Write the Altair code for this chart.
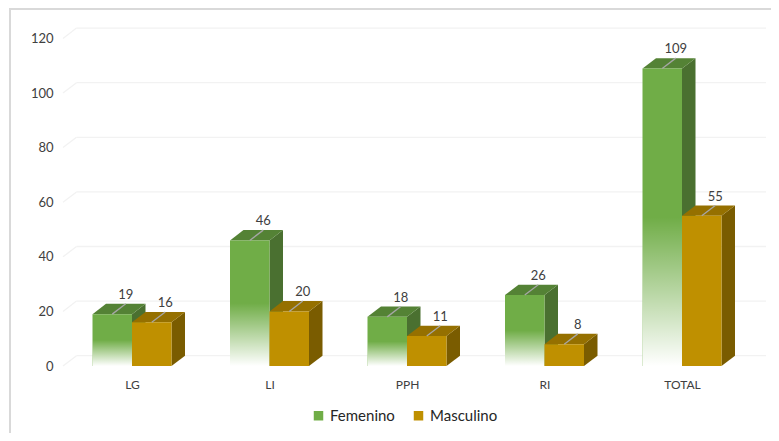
import altair as alt
import pandas as pd

categories = ["LG", "LI", "PPH", "RI", "TOTAL"]
femenino = [19, 46, 18, 26, 109]
masculino = [16, 20, 11, 8, 55]
y_ticks = [0, 20, 40, 60, 80, 100, 120]
series_names = ["Femenino", "Masculino"]

GREEN, GREEN_TOP, GREEN_SIDE = "#70AD47", "#548235", "#4A7030"
GOLD, GOLD_TOP, GOLD_SIDE = "#BF9000", "#957000", "#7A5C00"
FONT = "Lato"

PX_X = 137.5
PX_Y = 2.73
BAR = 39.5 / PX_X
DX = 13.5 / PX_X
DY = 10.3 / PX_Y
X_DOMAIN = [-69 / PX_X, 634 / PX_X]
Y_DOMAIN = [0, 338 / PX_Y]

bars, sides, tops = [], [], []
for i, c in enumerate(categories):
    for name, vals, x0 in (("Femenino", femenino, i - BAR), ("Masculino", masculino, i)):
        v = vals[i]
        x1 = x0 + BAR
        key = f"{c}-{name}"
        bars.append(dict(key=key, cat=c, serie=name, x0=x0, x1=x1, v=v, base=0,
                         lx=(x0 + x1) / 2, lx2=(x0 + x1) / 2 + DX, ly=v + DY))
        sides += [dict(key=key, serie=name, x=x1, y=v, y2=0),
                  dict(key=key, serie=name, x=x1 + DX, y=v + DY, y2=DY)]
        tops += [dict(key=key, serie=name, x=x0, y=v, y2=v),
                 dict(key=key, serie=name, x=x0 + DX, y=v + DY, y2=v),
                 dict(key=key, serie=name, x=x1, y=v + DY, y2=v),
                 dict(key=key, serie=name, x=x1 + DX, y=v + DY, y2=v + DY)]

bars = pd.DataFrame(bars)
sides = pd.DataFrame(sides)
tops = pd.DataFrame(tops)
grid = pd.DataFrame([dict(v=t, back=t + DY, x0=X_DOMAIN[0], x1=X_DOMAIN[0] + DX, x2=X_DOMAIN[1]) for t in y_ticks])

labels_expr = "[" + ",".join(f"'{c}'" for c in categories) + "][datum.value]"
x_scale = alt.Scale(domain=X_DOMAIN, nice=False, zero=False)
y_scale = alt.Scale(domain=Y_DOMAIN, nice=False, zero=False)
x_axis = alt.Axis(values=list(range(len(categories))), labelExpr=labels_expr, title=None, grid=False,
                  domain=False, ticks=False, labelPadding=13, labelFontSize=12, labelFont=FONT,
                  labelColor="#404040", labelFlush=False)
y_axis = alt.Axis(values=y_ticks, title=None, grid=False, domain=False, ticks=False, labelPadding=10,
                  labelFontSize=13, labelFont=FONT, labelColor="#404040")

frame_left = alt.Chart(grid).mark_rule(color="#D9D9D9", strokeWidth=1.5).encode(
    x=alt.value(-53), y=alt.value(-20), y2=alt.value(405))
frame_top = alt.Chart(grid).mark_rule(color="#D9D9D9", strokeWidth=1.5).encode(
    x=alt.value(-53), x2=alt.value(708), y=alt.value(-19))

grid_back = alt.Chart(grid).mark_rule(color="#F2F2F2", strokeWidth=1.3).encode(
    x=alt.X("x1:Q", scale=x_scale, axis=x_axis), x2="x2:Q", y=alt.Y("back:Q", scale=y_scale, axis=y_axis))
grid_diag = alt.Chart(grid).mark_rule(color="#F2F2F2", strokeWidth=1.3).encode(
    x="x0:Q", x2="x1:Q", y="v:Q", y2="back:Q")


def faces(df, serie, color):
    return alt.Chart(df[df.serie == serie]).mark_area(color=color, opacity=1, interpolate="linear").encode(
        x=alt.X("x:Q"), y=alt.Y("y:Q"), y2="y2:Q", detail="key:N")


def fronts(serie):
    return alt.Chart(bars[bars.serie == serie]).mark_rect().encode(
        x=alt.X("x0:Q"), x2="x1:Q", y=alt.Y("v:Q"), y2="base:Q",
        color=alt.Color("serie:N", scale=alt.Scale(domain=series_names, range=[GREEN, GOLD]),
                        legend=alt.Legend(title=None, orient="none", direction="horizontal", legendX=248, legendY=380,
                                          symbolType="square", symbolSize=90, labelFontSize=15, labelFont=FONT,
                                          labelColor="#262626", columnPadding=16, labelOffset=4)))


fade = alt.Chart(bars[bars.serie == "Femenino"]).mark_rect(
    color=alt.Gradient(gradient="linear", x1=0, y1=0, x2=0, y2=1,
                       stops=[alt.GradientStop(offset=0.5, color="rgba(255,255,255,0)"),
                              alt.GradientStop(offset=1, color="#FFFFFF")])
).encode(x="x0:Q", x2="x1:Q", y="v:Q", y2="base:Q")

leader = alt.Chart(bars).mark_rule(color="#A6A6A6", strokeWidth=1.3).encode(
    x="lx:Q", x2="lx2:Q", y="v:Q", y2="ly:Q")
text = alt.Chart(bars).mark_text(baseline="bottom", dy=-2, fontSize=13, font=FONT, color="#404040").encode(
    x="lx2:Q", y="ly:Q", text="v:Q")

chart = alt.layer(
    frame_left, frame_top, grid_back, grid_diag,
    faces(sides, "Femenino", GREEN_SIDE), faces(tops, "Femenino", GREEN_TOP), fronts("Femenino"), fade,
    faces(sides, "Masculino", GOLD_SIDE), faces(tops, "Masculino", GOLD_TOP), fronts("Masculino"),
    leader, text,
).properties(
    width=703, height=338, padding=dict(left=55, top=20, right=5, bottom=67),
    autosize=alt.AutoSizeParams(type="none"),
).configure_view(stroke=None)

chart.save("out.html", embed_options={"renderer": "svg", "actions": False})
